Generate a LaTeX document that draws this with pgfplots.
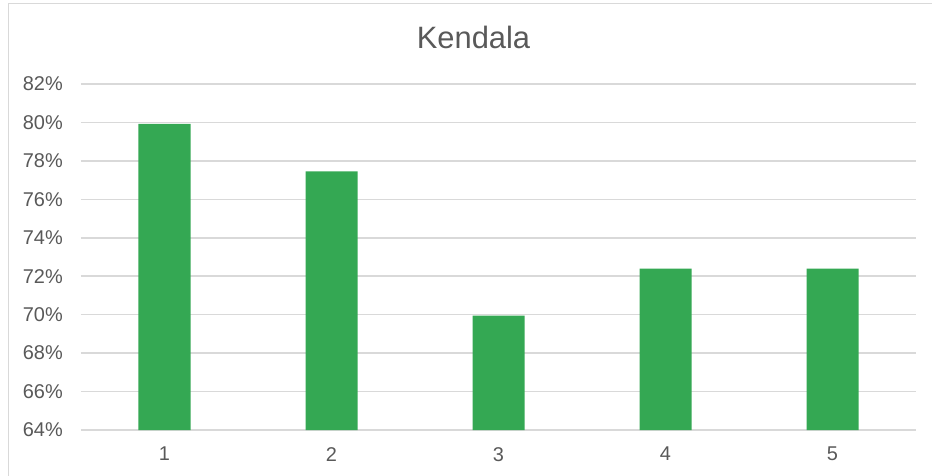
\documentclass[border=0pt]{standalone}
\usepackage{pgfplots}
\pgfplotsset{compat=1.18}
\usepackage{fontspec}
\setmainfont{Liberation Sans}
\definecolor{bargreen}{RGB}{52,168,83}
\definecolor{gridgray}{RGB}{217,217,217}
\definecolor{txt}{RGB}{89,89,89}
\begin{document}
\begin{tikzpicture}
\useasboundingbox (-81bp,-46bp) rectangle (851bp,430bp);
\draw[gridgray, line width=1bp] (-72bp,-46bp) -- (-72bp,426bp) -- (851bp,426bp);
\begin{axis}[
  at={(0,0)}, anchor=south west,
  scale only axis, width=835bp, height=346bp,
  xmin=0.5, xmax=5.5, ymin=64, ymax=82,
  ytick={64,66,...,82},
  yticklabel={\pgfmathprintnumber{\tick}\%},
  xtick={1,2,3,4,5},
  ymajorgrids, grid style={gridgray, line width=1.5bp},
  axis line style={draw=none},
  major tick length=0pt,
  tick label style={font=\fontsize{20}{24}\selectfont, text=txt, inner sep=0pt},
  /pgf/number format/assume math mode=true,
  yticklabel style={anchor=east, xshift=-18bp},
  xticklabel style={anchor=north, yshift=-17bp},
  clip=false,
]
\addplot[ybar, bar width=52bp, fill=bargreen, draw=none] coordinates {
  (1,79.93) (2,77.45) (3,69.95) (4,72.40) (5,72.40)
};
\end{axis}
\node[text=txt, font=\fontsize{31}{36}\selectfont, inner sep=0pt] at (392.5bp,392.5bp) {Kendala};
\end{tikzpicture}
\end{document}
